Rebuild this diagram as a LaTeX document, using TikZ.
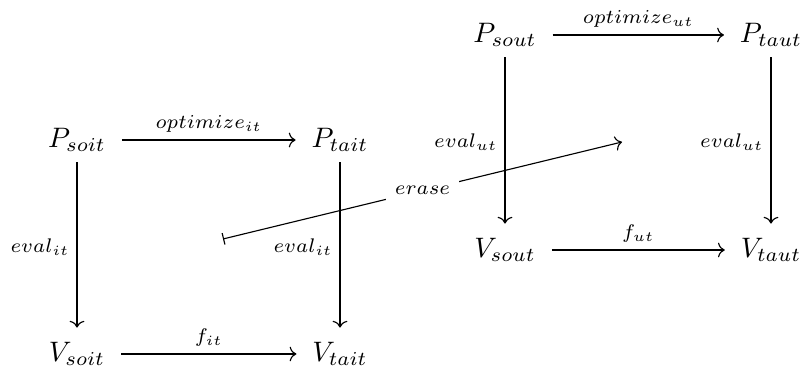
\documentclass[tikz,border=0pt]{standalone}
\usetikzlibrary{arrows.meta}
\begin{document}
\begin{tikzpicture}[x=0.355pt,y=-0.355pt,
  obj/.style={inner xsep=2pt,inner ysep=1.5pt},
  tip/.style={-{To[length=2.4pt,width=5.2pt]}},
  harr/.style={tip,line width=0.4pt,shorten <=3.5pt,shorten >=3.5pt},
  varr/.style={tip,line width=0.4pt,shorten <=2pt,shorten >=3.5pt},
  mapsarr/.style={{Bar[width=4.2pt,line width=0.4pt]}-{To[length=2.4pt,width=5.2pt]},line width=0.4pt},
  lab/.style={inner sep=2.5pt}]
\useasboundingbox (0,0) rectangle (804,369);
% left square
\node[obj] (Psoit) at (77,140) {$P_{soit}$};
\node[obj] (Ptait) at (340,140) {$P_{tait}$};
\node[obj] (Vsoit) at (77,354) {$V_{soit}$};
\node[obj] (Vtait) at (340,354) {$V_{tait}$};
% right square
\node[obj] (Psout) at (505,35) {$P_{sout}$};
\node[obj] (Ptaut) at (771,35) {$P_{taut}$};
\node[obj] (Vsout) at (505,250) {$V_{sout}$};
\node[obj] (Vtaut) at (771,250) {$V_{taut}$};
% erase end points
\coordinate (e1) at (223,239);
\coordinate (e2) at (622,142);

\draw[harr] (Psoit) -- node[above,lab] {$\scriptstyle optimize_{it}$} (Ptait);
\draw[harr] (Vsoit) -- node[above,lab] {$\scriptstyle f_{it}$} (Vtait);
\draw[varr] (Psoit) -- node[left,lab] {$\scriptstyle eval_{it}$} (Vsoit);
\draw[varr] (Ptait) -- node[left,lab] {$\scriptstyle eval_{it}$} (Vtait);

\draw[harr] (Psout) -- node[above,lab] {$\scriptstyle optimize_{ut}$} (Ptaut);
\draw[harr] (Vsout) -- node[above,lab] {$\scriptstyle f_{ut}$} (Vtaut);
\draw[varr] (Psout) -- node[left,lab] {$\scriptstyle eval_{ut}$} (Vsout);
\draw[varr] (Ptaut) -- node[left,lab] {$\scriptstyle eval_{ut}$} (Vtaut);

\draw[mapsarr] (e1) -- node[fill=white,inner sep=3pt] {$\scriptstyle erase$} (e2);
\end{tikzpicture}
\end{document}
